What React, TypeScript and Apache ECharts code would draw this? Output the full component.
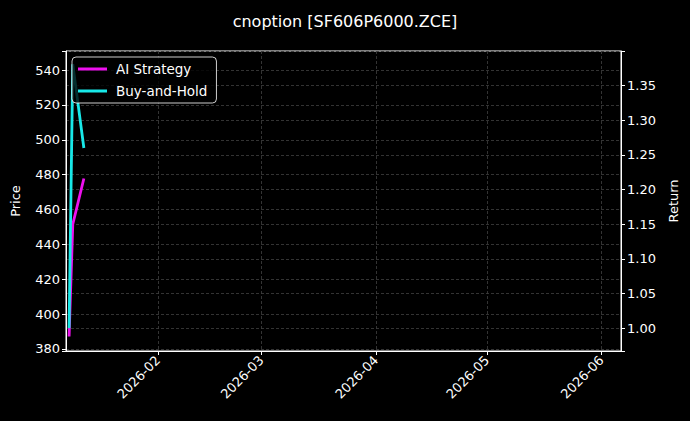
import React, { useEffect, useRef } from 'react'
import * as echarts from 'echarts'

// trading days shown in the chart (local time)
const dates = ['2026-01-08', '2026-01-09', '2026-01-12']
const aiStrategy = [0.988, 1.15, 1.216]
const buyAndHold = [1.0, 1.381, 1.26]
const seriesNames = ['AI Strategy', 'Buy-and-Hold']
const seriesColors = ['#ee10ee', '#18e8e8']

// axis limits
const xMin = '2026-01-07T04:00:00'
const xMax = '2026-06-06T06:30:00'
const priceMin = 378.85
const priceMax = 550.9
const priceStep = 20
const returnMin = 0.967
const returnMax = 1.4
const returnStep = 0.05

const FONT = 'DejaVu Sans, sans-serif'
const toTime = (d: string) => new Date(d.includes('T') ? d : d + 'T00:00:00').getTime()

// only label values that are on the step and inside the axis
const stepLabel = (v: number, step: number, max: number, digits: number) =>
  Math.abs(v / step - Math.round(v / step)) < 1e-6 && v < max - step / 4 ? v.toFixed(digits) : ''

const App: React.FC = () => {
  const chartRef = useRef<HTMLDivElement>(null)

  useEffect(() => {
    document.body.style.margin = '0'
    document.body.style.background = '#000'
    if (!chartRef.current) return
    const chart = echarts.init(chartRef.current, null, { renderer: 'svg' })

    const gridLine = {
      show: true,
      lineStyle: { color: '#404040', width: 0.8, type: [3, 2] as any }
    }
    const axisLine = { show: true, lineStyle: { color: '#ffffff', width: 1 } }
    const axisTick = { show: true, length: 4, lineStyle: { color: '#ffffff' } }

    const lineSeries = [aiStrategy, buyAndHold].map((values, i) => ({
      name: seriesNames[i],
      type: 'line',
      yAxisIndex: 1,
      data: values.map((v, j) => [toTime(dates[j]), v]),
      symbol: 'none',
      lineStyle: { width: 2.8, color: seriesColors[i] },
      itemStyle: { color: seriesColors[i] }
    }))

    const option: echarts.EChartsOption = {
      animation: false,
      backgroundColor: '#000000',
      title: {
        text: 'cnoption [SF606P6000.ZCE]',
        left: 'center',
        top: 8,
        textStyle: { color: '#ffffff', fontSize: 16, fontWeight: 'normal', fontFamily: FONT }
      },
      grid: {
        left: 66,
        right: 69,
        top: 51,
        bottom: 70,
        show: true,
        borderColor: '#ffffff',
        borderWidth: 1,
        backgroundColor: '#000000'
      },
      legend: {
        data: seriesNames,
        orient: 'vertical',
        left: 72,
        top: 57,
        icon: 'rect',
        itemWidth: 29,
        itemHeight: 3,
        itemGap: 8,
        padding: [5, 9, 5, 6],
        backgroundColor: 'rgba(0,0,0,0.8)',
        borderColor: 'rgba(255,255,255,0.8)',
        borderWidth: 1,
        borderRadius: 4,
        textStyle: { color: '#ffffff', fontSize: 13.5, fontFamily: FONT, padding: [0, 0, 0, 4] }
      },
      xAxis: {
        type: 'time',
        min: toTime(xMin),
        max: toTime(xMax),
        axisLine,
        axisTick,
        splitLine: gridLine,
        axisLabel: {
          color: '#ffffff',
          fontSize: 13,
          fontFamily: FONT,
          rotate: 45,
          margin: 7,
          formatter: (value: number) => {
            const d = new Date(value)
            if (d.getDate() !== 1 || d.getHours() !== 0) return ''
            const mm = String(d.getMonth() + 1).padStart(2, '0')
            return `${d.getFullYear()}-${mm}`
          }
        }
      },
      yAxis: [
        {
          type: 'value',
          name: 'Price',
          nameLocation: 'middle',
          nameGap: 44,
          nameRotate: 90,
          nameTextStyle: { color: '#ffffff', fontSize: 13, fontFamily: FONT },
          min: priceMin,
          max: priceMax,
          splitNumber: 8,
          axisLine,
          axisTick,
          splitLine: gridLine,
          axisLabel: {
            color: '#ffffff',
            fontSize: 13,
            fontFamily: FONT,
            margin: 6,
            formatter: (v: number) => stepLabel(v, priceStep, priceMax, 0)
          }
        },
        {
          type: 'value',
          name: 'Return',
          position: 'right',
          nameLocation: 'middle',
          nameGap: 46,
          nameRotate: 90,
          nameTextStyle: { color: '#ffffff', fontSize: 13, fontFamily: FONT },
          min: returnMin,
          max: returnMax,
          splitNumber: 8,
          axisLine,
          axisTick,
          splitLine: gridLine,
          axisLabel: {
            color: '#ffffff',
            fontSize: 13,
            fontFamily: FONT,
            margin: 6,
            formatter: (v: number) => stepLabel(v, returnStep, returnMax, 2)
          }
        }
      ],
      series: lineSeries as any
    }

    chart.setOption(option)
    return () => {
      chart.dispose()
    }
  }, [])

  return <div ref={chartRef} style={{ width: '690px', height: '421px', background: '#000' }} />
}

export default App
